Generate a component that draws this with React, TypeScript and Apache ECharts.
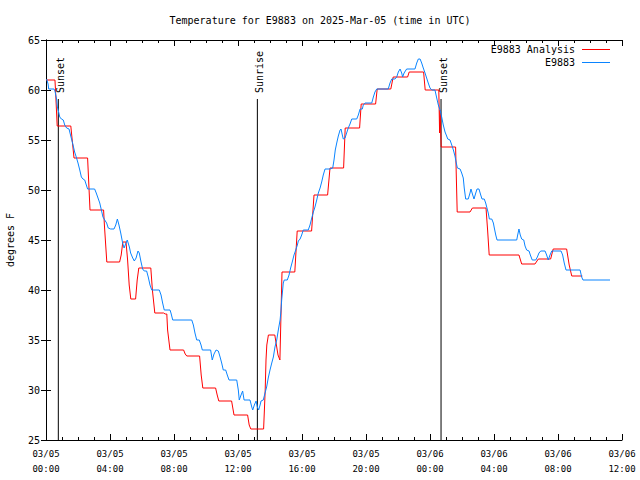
import React, { useEffect, useRef } from "react";
import * as echarts from "echarts";

// Hours since 2025-03-05 00:00 UTC
const blueHours = [
  0.04, 0.13, 0.17, 0.5, 0.56, 0.67, 0.71, 0.79, 0.86, 0.96, 1.08, 1.17, 1.29, 1.44, 1.5, 1.58, 1.69, 1.79, 1.89, 2.0,
  2.11, 2.21, 2.31, 2.42, 2.52, 2.6, 3.04, 3.14, 3.25, 3.36, 3.46, 3.56, 3.67, 3.79, 3.89, 4.04, 4.25, 4.36, 4.46, 4.56,
  4.67, 4.79, 4.88, 5.0, 5.08, 5.21, 5.29, 5.42, 5.52, 5.63, 5.75, 5.83, 5.94, 6.04, 6.14, 6.29, 6.39, 6.5, 6.61, 7.08,
  7.19, 7.29, 7.39, 7.75, 7.81, 7.92, 9.11, 9.21, 9.31, 9.42, 9.58, 9.69, 9.77, 10.29, 10.39, 10.5, 10.63, 10.77, 10.88, 10.98,
  11.08, 11.23, 11.33, 11.44, 11.92, 12.02, 12.08, 12.19, 12.29, 12.38, 12.75, 12.86, 12.92, 13.02, 13.13, 13.21, 13.29, 13.38, 13.44, 13.58,
  13.69, 13.79, 13.89, 14.0, 14.11, 14.21, 14.31, 14.42, 14.52, 14.63, 14.69, 14.73, 14.79, 14.83, 14.89, 15.08, 15.19, 15.29, 15.39, 15.5,
  15.61, 15.71, 15.77, 15.88, 15.98, 16.08, 16.39, 16.5, 16.61, 16.71, 16.81, 16.92, 17.02, 17.13, 17.23, 17.33, 17.44, 17.75, 17.92, 18.0,
  18.08, 18.17, 18.27, 18.38, 18.44, 18.52, 18.58, 18.69, 18.79, 18.89, 19.0, 19.11, 19.42, 19.52, 19.63, 19.77, 19.83, 19.94, 20.36, 20.46,
  20.56, 20.67, 21.39, 21.5, 21.61, 21.81, 21.92, 22.02, 22.13, 22.23, 22.29, 22.38, 22.54, 23.06, 23.17, 23.27, 23.38, 23.48, 23.58, 23.69,
  23.79, 23.89, 24.0, 24.11, 24.31, 24.42, 24.52, 24.63, 24.73, 24.83, 24.94, 25.04, 25.11, 25.25, 25.36, 25.46, 25.56, 25.63, 25.71, 25.88,
  25.98, 26.08, 26.14, 26.23, 26.39, 26.5, 26.56, 26.67, 26.75, 26.86, 26.94, 27.06, 27.17, 27.25, 27.39, 27.48, 27.56, 27.64, 27.71, 27.86,
  27.96, 28.02, 28.11, 28.19, 29.42, 29.48, 29.56, 29.64, 29.73, 29.86, 29.94, 30.04, 30.19, 30.27, 30.39, 30.61, 30.71, 30.81, 30.92, 31.19,
  31.29, 31.39, 31.5, 31.61, 32.19, 32.29, 32.39, 32.5, 33.38, 33.48, 33.56, 35.25,
];
const blueTemps = [
  61.1, 60.6, 60.1, 60.1, 59.9, 59.0, 58.3, 57.8, 57.3, 57.1, 57.0, 56.5, 56.2, 56.1, 55.7, 55.2, 54.5, 53.8, 53.3, 52.7,
  52.0, 51.3, 51.1, 51.0, 50.5, 50.1, 50.1, 49.7, 49.2, 48.7, 48.0, 47.3, 47.0, 46.7, 46.2, 46.1, 46.1, 46.5, 47.1, 46.5,
  45.7, 44.7, 44.2, 44.7, 45.0, 44.3, 43.7, 43.2, 42.9, 43.2, 43.9, 43.7, 42.8, 42.1, 41.9, 41.9, 41.3, 40.5, 40.0, 40.0,
  39.5, 38.7, 38.0, 38.0, 37.7, 37.0, 37.0, 36.5, 35.7, 35.0, 35.0, 34.5, 34.0, 34.0, 33.0, 33.6, 34.0, 33.9, 33.3, 32.7,
  32.0, 32.0, 31.5, 31.0, 31.0, 30.0, 29.0, 29.5, 29.9, 29.0, 29.0, 28.3, 28.0, 28.5, 28.9, 28.3, 28.0, 28.5, 28.9, 29.0,
  29.7, 30.3, 31.2, 32.0, 32.7, 33.3, 34.3, 35.0, 36.0, 37.0, 38.0, 39.0, 40.0, 40.7, 41.0, 41.0, 41.5, 42.2, 42.8, 43.5,
  44.0, 44.5, 44.9, 45.1, 45.5, 46.0, 46.0, 46.5, 47.2, 47.8, 48.3, 49.0, 49.7, 50.2, 50.8, 51.5, 52.1, 52.1, 52.2, 53.0,
  54.0, 54.7, 55.4, 56.0, 56.1, 55.5, 55.1, 55.2, 55.7, 56.2, 56.6, 57.1, 57.1, 57.5, 58.1, 58.1, 58.5, 58.7, 58.7, 59.3,
  59.8, 60.1, 60.1, 60.7, 61.1, 61.1, 61.3, 61.8, 62.1, 61.7, 61.3, 61.7, 62.1, 62.1, 62.7, 63.1, 63.1, 62.7, 62.2, 61.7,
  61.2, 60.7, 60.2, 60.0, 60.0, 59.2, 58.5, 58.0, 57.3, 56.5, 55.8, 55.4, 55.1, 55.0, 54.5, 54.0, 53.4, 52.8, 52.2, 52.1,
  51.7, 51.2, 50.2, 49.1, 49.1, 49.7, 50.1, 49.5, 49.1, 49.7, 50.1, 50.1, 49.5, 49.1, 49.1, 48.7, 48.2, 47.7, 47.1, 47.1,
  46.7, 46.2, 45.5, 45.0, 45.0, 45.5, 46.1, 45.5, 45.1, 45.0, 44.4, 44.0, 43.9, 43.5, 43.0, 43.0, 43.3, 43.7, 43.9, 43.9,
  43.5, 43.0, 43.5, 43.9, 43.9, 43.5, 42.7, 42.0, 42.0, 41.3, 41.0, 41.0,
];

const redHours = [
  0.0, 0.56, 0.6, 0.7, 1.55, 1.75, 2.6, 2.75, 3.6, 3.65, 3.8, 4.6, 4.7, 4.8, 5.0, 5.1, 5.2, 5.3, 5.6, 5.7,
  5.8, 6.55, 6.65, 6.8, 7.35, 7.45, 7.55, 7.6, 7.75, 8.6, 8.7, 8.8, 9.6, 9.7, 9.8, 10.6, 10.7, 10.8, 11.6, 11.75,
  12.6, 12.7, 12.8, 13.6, 13.65, 13.7, 13.75, 13.8, 13.9, 14.3, 14.4, 14.5, 14.62, 14.75, 15.55, 15.7, 16.6, 16.75, 17.6, 17.75,
  18.6, 18.7, 19.6, 19.7, 20.6, 20.7, 21.55, 21.7, 22.6, 22.7, 23.6, 23.7, 24.55, 24.6, 24.63, 24.7, 25.6, 25.65, 25.7, 26.5,
  26.65, 27.5, 27.6, 27.7, 29.56, 29.73, 30.56, 30.77, 31.54, 31.7, 32.54, 32.7, 32.86, 33.52,
];
const redTemps = [
  61.0, 61.0, 59.8, 56.4, 56.4, 53.2, 53.2, 48.0, 48.0, 46.5, 42.8, 42.8, 43.5, 44.8, 44.8, 43.0, 40.5, 39.1, 39.1, 41.0,
  42.2, 42.2, 40.0, 37.7, 37.7, 37.6, 37.6, 36.0, 34.0, 34.0, 33.6, 33.4, 33.4, 31.5, 30.2, 30.2, 29.5, 28.9, 28.9, 27.5,
  27.5, 26.5, 26.1, 26.1, 28.0, 30.0, 33.0, 34.5, 35.5, 35.5, 34.5, 33.5, 33.0, 41.8, 41.8, 45.9, 45.9, 49.5, 49.5, 52.2,
  52.2, 56.2, 56.2, 58.6, 58.6, 60.1, 60.1, 61.3, 61.3, 61.8, 61.8, 60.0, 60.0, 55.7, 58.0, 54.3, 54.3, 51.0, 47.8, 47.8,
  48.2, 48.2, 46.0, 43.5, 43.5, 42.6, 42.6, 43.1, 43.1, 44.1, 44.1, 42.5, 41.4, 41.4,
];

const eventNames = ["Sunset", "Sunrise", "Sunset"];
const eventHours = [0.77, 13.21, 24.69];

const yTicks = { min: 25, max: 65, interval: 5 };
const xTicks = { min: 0, max: 36, interval: 4 };

const MONO = "'DejaVu Sans Mono', 'Liberation Mono', monospace";

function pad(n: number) {
  return n < 10 ? "0" + n : "" + n;
}

export default function App() {
  const ref = useRef<HTMLDivElement>(null);
  useEffect(() => {
    if (!ref.current) return;
    const chart = echarts.init(ref.current, null, { renderer: "svg" });
    const blueData = blueHours.map((h, i) => [h, blueTemps[i]]);
    const redData = redHours.map((h, i) => [h, redTemps[i]]);
    const eventData = eventHours.map((h) => [h, 59.1]);

    const xLabel = (v: number) => {
      const day = 5 + Math.floor(v / 24);
      const hh = Math.round(v % 24);
      return `03/${pad(day)}\n${pad(hh)}:00`;
    };

    const axisLine = { show: true, lineStyle: { color: "#000", width: 1 } };

    chart.setOption({
      animation: false,
      backgroundColor: "#fff",
      title: {
        text: "Temperature for E9883 on 2025-Mar-05 (time in UTC)",
        left: "center",
        top: 10,
        textStyle: { fontFamily: MONO, fontSize: 10, fontWeight: "normal", color: "#000" },
      },
      grid: { left: 46, right: 18, top: 40, bottom: 40, containLabel: false, outerBoundsMode: "none" },
      xAxis: [
        {
          type: "value",
          position: "bottom",
          min: xTicks.min,
          max: xTicks.max,
          interval: xTicks.interval,
          axisLine,
          axisTick: { show: true, inside: true, length: 6, lineStyle: { color: "#000" } },
          minorTick: { show: true, splitNumber: 4, length: 3, lineStyle: { color: "#000" } },
          splitLine: { show: false },
          axisLabel: {
            formatter: xLabel,
            fontFamily: MONO,
            fontSize: 9,
            color: "#000",
            lineHeight: 15,
            margin: 6,
          },
        },
        {
          type: "value",
          position: "top",
          min: xTicks.min,
          max: xTicks.max,
          interval: xTicks.interval,
          axisLine,
          axisTick: { show: true, inside: true, length: 6, lineStyle: { color: "#000" } },
          minorTick: { show: true, splitNumber: 4, length: 3, lineStyle: { color: "#000" } },
          splitLine: { show: false },
          axisLabel: { show: false },
        },
      ],
      yAxis: [
        {
          type: "value",
          position: "left",
          min: yTicks.min,
          max: yTicks.max,
          interval: yTicks.interval,
          name: "degrees F",
          nameLocation: "middle",
          nameRotate: 90,
          nameGap: 31,
          nameTextStyle: { fontFamily: MONO, fontSize: 10, color: "#000" },
          axisLine,
          axisTick: { show: true, inside: true, length: 5, lineStyle: { color: "#000" } },
          splitLine: { show: false },
          axisLabel: { fontFamily: MONO, fontSize: 10, color: "#000", margin: 6 },
        },
        {
          type: "value",
          position: "right",
          min: yTicks.min,
          max: yTicks.max,
          interval: yTicks.interval,
          axisLine,
          axisTick: { show: true, inside: true, length: 5, lineStyle: { color: "#000" } },
          splitLine: { show: false },
          axisLabel: { show: false },
        },
      ],
      series: [
        {
          name: "E9883 Analysis",
          type: "line",
          data: redData,
          showSymbol: false,
          symbol: "none",
          lineStyle: { color: "#ff0000", width: 1 },
          itemStyle: { color: "#ff0000" },
        },
        {
          name: "E9883",
          type: "line",
          data: blueData,
          showSymbol: false,
          symbol: "none",
          lineStyle: { color: "#0a84ff", width: 1 },
          itemStyle: { color: "#0a84ff" },
        },
        {
          name: "events",
          type: "custom",
          data: eventData,
          encode: { x: 0, y: 1 },
          renderItem: (params: any, api: any) => {
            const h = api.value(0);
            const bottom = api.coord([h, yTicks.min]);
            const top = api.coord([h, api.value(1)]);
            const name = eventNames[params.dataIndex];
            return {
              type: "group",
              children: [
                {
                  type: "line",
                  shape: { x1: bottom[0], y1: bottom[1], x2: top[0], y2: top[1] },
                  style: { stroke: "#000", lineWidth: 1 },
                },
                {
                  type: "text",
                  x: top[0] + 2,
                  y: top[1] - 6,
                  rotation: Math.PI / 2,
                  style: {
                    text: name,
                    fill: "#000",
                    font: `10px ${MONO}`,
                    align: "left",
                    verticalAlign: "middle",
                  },
                },
              ],
            };
          },
        },
      ],
      graphic: [
        {
          type: "text",
          right: 65,
          top: 44,
          style: { text: "E9883 Analysis", fill: "#000", font: `10px ${MONO}` },
        },
        {
          type: "line",
          shape: { x1: 582, y1: 49.5, x2: 610, y2: 49.5 },
          style: { stroke: "#ff0000", lineWidth: 1 },
        },
        {
          type: "text",
          right: 65,
          top: 57,
          style: { text: "E9883", fill: "#000", font: `10px ${MONO}` },
        },
        {
          type: "line",
          shape: { x1: 582, y1: 62.5, x2: 610, y2: 62.5 },
          style: { stroke: "#0a84ff", lineWidth: 1 },
        },
      ],
    });
    return () => chart.dispose();
  }, []);
  return (
    <div
      ref={ref}
      style={{ position: "fixed", left: 0, top: 0, width: 640, height: 480, background: "#fff" }}
    />
  );
}
